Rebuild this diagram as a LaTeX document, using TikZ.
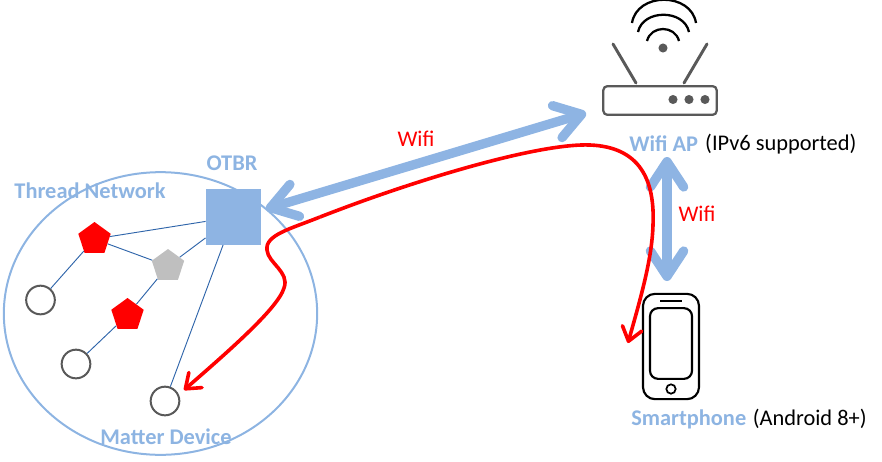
\documentclass[tikz,border=0pt]{standalone}
\usepackage{fontspec}
\setmainfont{Carlito}
\usetikzlibrary{arrows.meta,positioning,shapes.geometric}
\definecolor{bluelabel}{RGB}{141,180,226}
\definecolor{bluefill}{RGB}{142,180,227}
\definecolor{blueline}{RGB}{47,101,170}
\definecolor{darkgray}{RGB}{89,89,89}
\begin{document}
\begin{tikzpicture}[x=0.75pt,y=-0.75pt]
\tikzset{
    >={Straight Barb[length=19pt,width=25pt,round]},
    lbl/.style={font=\fontsize{16.8}{18}\selectfont\bfseries,text=bluelabel,inner sep=0pt},
    note/.style={font=\fontsize{16.8}{18}\selectfont,inner sep=0pt},
    wifi/.style={font=\fontsize{16.8}{18}\selectfont,text=red,inner sep=0pt},
    penta/.style={regular polygon,regular polygon sides=5,minimum size=25.5pt,inner sep=0pt},
    dev/.style={circle,draw=darkgray,line width=1.5pt,fill=white,minimum size=21.5pt,inner sep=0pt},
    led/.style={circle,fill=darkgray,minimum size=6.8pt,inner sep=0pt},
    link/.style={draw=blueline,line width=0.7pt},
    bluearrow/.style={<->,draw=bluefill,line width=7pt},
    redarrow/.style={-{Straight Barb[length=10pt,width=15pt,round]},draw=red,line width=2.7pt},
    icon/.style={draw=darkgray,line width=2.2pt,line cap=round},
    arc/.style={draw=black,line width=1.7pt}
}
\useasboundingbox (0,0) rectangle (882,461);
%network
\node[ellipse,draw=bluelabel,line width=1.5pt,minimum width=235pt,minimum height=212pt,inner sep=0pt] (net) at (160.5,313.5) {};
\node[rectangle,fill=bluefill,minimum size=41.5pt,inner sep=0pt] (otbr) at (233.5,217) {};
\node[penta,fill=red] (p1) at (94.5,239) {};
\node[penta,fill=black!25] (p2) at (168,266) {};
\node[penta,fill=red] (p3) at (127.5,315) {};
\node[dev] (d1) at (40.5,300) {};
\node[dev] (d2) at (76,364) {};
\node[dev] (d3) at (165,401) {};

%links
\draw[link] (otbr) -- (p1);
\draw[link] (p1) -- (p2);
\draw[link] (otbr) -- (p2);
\draw[link] (p2) -- (p3);
\draw[link] (p1) -- (d1);
\draw[link] (p3) -- (d2);
\draw[link] (otbr) -- (d3);

%router
\node[rectangle,rounded corners=3pt,draw=darkgray,line width=1.7pt,minimum width=85pt,minimum height=21.5pt,inner sep=0pt] (ap) at (660,100.5) {};
\foreach \i/\x in {1/673,2/689,3/705} \node[led] (led\i) at (\x,99.5) {};
\node[led] (dot) at (663,48) {};
\coordinate (antl) at (613,44);
\coordinate (antr) at (707,44);
\draw[icon] (antl) -- (636,83);
\draw[icon] (antr) -- (684,83);
\draw[arc] (647,41) .. controls (651,25) and (675,25) .. (679,41);
\draw[arc] (638,32) .. controls (643,9) and (684,9) .. (689,32);
\draw[arc] (632,23) .. controls (637,-8) and (691,-8) .. (696,23);

%phone
\node[rectangle,rounded corners=9pt,draw=black,line width=1.6pt,minimum width=42pt,minimum height=79pt,inner sep=0pt] (phone) at (671,346.5) {};
\node[rectangle,rounded corners=6pt,draw=black,line width=1.6pt,minimum width=31.5pt,minimum height=53pt,inner sep=0pt] (screen) at (671,343.5) {};
\node[circle,draw=black,line width=1.3pt,minimum size=7pt,inner sep=0pt] (home) at (671,389) {};
\draw[black,line width=2pt] (660,301) -- (682,301);

%labels
\node[lbl] (lotbr) at (232,163) {OTBR};
\node[lbl] (lnet) at (90,191) {Thread Network};
\node[lbl] (ldev) at (166,437) {Matter Device};
\node[lbl,anchor=west] (lap) at (629,144) {Wifi AP};
\node[note,right=5pt of lap] (lipv) {(IPv6 supported)};
\node[lbl,anchor=west] (lsp) at (631,419) {Smartphone};
\node[note,right=4.5pt of lsp] (land) {(Android 8+)};
\node[wifi] (w1) at (416,139) {Wifi};
\node[wifi] (w2) at (697,214) {Wifi};

%arrows
\coordinate (a1) at (266,209);
\coordinate (a2) at (586,113);
\coordinate (b1) at (667,157);
\coordinate (b2) at (667,281);
\draw[bluearrow] (a1) -- (a2);
\draw[bluearrow] (b1) -- (b2);
\coordinate (r0) at (320,217);
\draw[redarrow] (r0) .. controls (420,178) and (540,143) .. (590,145) .. controls (640,147) and (655,180) .. (653,225) .. controls (652,260) and (640,300) .. (628,343);
\draw[redarrow] (r0) .. controls (290,229) and (265,235) .. (267,250) .. controls (268,263) and (290,272) .. (284,288) .. controls (278,308) and (230,350) .. (184,390);
\end{tikzpicture}
\end{document}
